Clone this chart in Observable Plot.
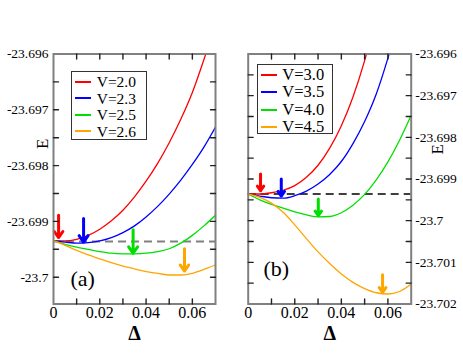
<!DOCTYPE html>
<html><head><meta charset="utf-8">
<script src="https://cdn.jsdelivr.net/npm/d3@7"></script>
<script src="https://cdn.jsdelivr.net/npm/@observablehq/plot@0.6"></script>
<style>
body{margin:0;background:#fff;}
#wrap{position:relative;width:463px;height:358px;font-family:"Liberation Serif","Times New Roman","DejaVu Serif",serif;overflow:hidden;}
#wrap svg{position:absolute;top:0;}
#wrap svg text{font-family:"Liberation Serif","Times New Roman","DejaVu Serif",serif;}
.legend{position:absolute;box-sizing:border-box;border:1.5px solid #333;background:#fff;color:#000;}
.row{display:flex;align-items:center;white-space:nowrap;overflow:visible;}
.sw{display:block;width:16px;height:2px;flex:none;}
.lt{display:block;overflow:visible;}
</style></head><body><div id="wrap"></div>
<script>
// ---- data ----
const delta = [0,0.005,0.01,0.015,0.02,0.025,0.03,0.035,0.04,0.045,0.05,0.055,0.06,0.065,0.07];
const E0 = -23.69936;

const seriesA = ["V=2.0","V=2.3","V=2.5","V=2.6"];
const seriesB = ["V=3.0","V=3.5","V=4.0","V=4.5"];
const colors = ["#ff0000","#0000ff","#00e000","#ffa500"];

const eA_20 = [-23.69935,-23.69935,-23.69932,-23.69925,-23.69914,-23.69899,-23.69880,-23.69856,-23.69828,-23.69796,-23.69759,-23.69717,-23.69669,-23.69610,-23.69545];
const eA_23 = [-23.69935,-23.69937,-23.69939,-23.69938,-23.69935,-23.69929,-23.69920,-23.69908,-23.69892,-23.69873,-23.69851,-23.69826,-23.69798,-23.69767,-23.69731];
const eA_25 = [-23.69935,-23.69941,-23.69946,-23.69950,-23.69954,-23.69957,-23.69958,-23.69958,-23.69957,-23.69954,-23.69949,-23.69939,-23.69925,-23.69908,-23.69889];
const eA_26 = [-23.69935,-23.69943,-23.69952,-23.69960,-23.69967,-23.69974,-23.69980,-23.69985,-23.69990,-23.69993,-23.69996,-23.69996,-23.69993,-23.69986,-23.69978];

const eB_30 = [-23.69936,-23.69936,-23.69933,-23.69927,-23.69916,-23.69896,-23.69867,-23.69826,-23.69772,-23.69703,-23.69616,-23.69510,null,null,null];
const eB_35 = [-23.69936,-23.69941,-23.69945,-23.69946,-23.69940,-23.69929,-23.69912,-23.69889,-23.69858,-23.69815,-23.69762,-23.69696,-23.69610,-23.69510,null];
const eB_40 = [-23.69936,-23.69950,-23.69961,-23.69970,-23.69979,-23.69986,-23.69991,-23.69990,-23.69981,-23.69963,-23.69937,-23.69902,-23.69859,-23.69807,-23.69747];
const eB_45 = [-23.69936,-23.69944,-23.69958,-23.69980,-23.70010,-23.70043,-23.70075,-23.70103,-23.70128,-23.70148,-23.70163,-23.70173,-23.70176,-23.70170,-23.70152];

// arrows: position, top end, tip end
const arrowDeltaA = [0.0022,0.013,0.0344,0.0566];
const arrowTopA   = [-23.69889,-23.69895,-23.69915,-23.69949];
const arrowTipA   = [-23.69929,-23.69937,-23.69957,-23.69989];
const arrowDeltaB = [0.0053,0.0142,0.0301,0.0577];
const arrowTopB   = [-23.69888,-23.69900,-23.69948,-23.70130];
const arrowTipB   = [-23.69928,-23.69941,-23.69988,-23.70172];

const xTicks = [0,0.02,0.04,0.06];
const xMinor = [0.01,0.02,0.03,0.04,0.05,0.06];
const yTicksA = [-23.7,-23.699,-23.698,-23.697,-23.696];
const yMinorA = [-23.7,-23.6995,-23.699,-23.6985,-23.698,-23.6975,-23.697,-23.6965];
const yTicksB = [-23.702,-23.701,-23.7,-23.699,-23.698,-23.697,-23.696];
const yMinorB = [-23.7015,-23.701,-23.7005,-23.7,-23.6995,-23.699,-23.6985,-23.698,-23.6975,-23.697,-23.6965];

// ---- drawing ----
const FONT = "Liberation Serif, Times New Roman, DejaVu Serif, serif";
const tickShape = {draw(ctx, l){ ctx.moveTo(0,0); ctx.lineTo(0,-l); }};
const fmtX = d => d === 0 ? "0" : String(d);
const fmtY = d => String(+d.toFixed(3));

function panel(o){
  const rows = [];
  o.series.forEach((s,i) => o.values[i].forEach((v,j) => { if (v !== null) rows.push({s, d: delta[j], e: v}); }));
  const arrows = o.series.map((s,i) => ({s, d: o.ad[i], top: o.at[i], tip: o.ap[i]}));
  const tk = {stroke:"#222", strokeWidth:1.4, fill:"none", length:5, anchor:"start", shape:tickShape};
  const side = o.side;
  return Plot.plot({
    width: o.width, height: 358,
    marginLeft: o.ml, marginRight: o.mr, marginTop: 53.5, marginBottom: 54.5,
    x: {domain: [0,0.07]},
    y: {domain: o.yDomain},
    color: {domain: o.series, range: colors},
    style: {fontFamily: FONT, background: "white", color: "black"},
    marks: [
      Plot.ruleY([E0], {stroke: o.dash, strokeDasharray: "8,5", strokeWidth: o.dashW}),
      Plot.line(rows, {x: "d", y: "e", z: "s", stroke: "s", strokeWidth: 1.3, curve: "monotone-x", clip: true}),
      Plot.arrow(arrows, {x: "d", y1: "top", y2: "tip", stroke: "s", strokeWidth: 3, headLength: 9, headAngle: 70}),
      Plot.frame({stroke: "#808080", strokeWidth: 2}),
      Plot.vector(xMinor, {...tk, x: d => d, frameAnchor: "bottom", rotate: 0}),
      Plot.vector(xMinor, {...tk, x: d => d, frameAnchor: "top", rotate: 180}),
      Plot.vector(o.yMinor, {...tk, y: d => d, frameAnchor: "left", rotate: 90}),
      Plot.vector(o.yMinor, {...tk, y: d => d, frameAnchor: "right", rotate: -90}),
      Plot.axisX({ticks: xTicks, tickSize: 0, tickPadding: 3, fontSize: 16, tickFormat: fmtX, label: null}),
      Plot.axisY({anchor: side, ticks: o.yTicks, tickSize: 0, tickPadding: o.yPad, fontSize: 13.5, tickFormat: fmtY, label: null}),
      Plot.text(["Δ"], {frameAnchor: "bottom", dy: 36, fontSize: 20, fontWeight: "bold"}),
      Plot.text(["E"], {frameAnchor: side, dx: o.edx, dy: o.edy, rotate: -90, fontSize: 17}),
      Plot.text([o.label], {frameAnchor: "bottom-left", textAnchor: "start", dx: o.ldx, dy: o.ldy, fontSize: 22})
    ]
  });
}

const wrap = document.getElementById("wrap");
const pa = panel({series: seriesA, values: [eA_20,eA_23,eA_25,eA_26], ad: arrowDeltaA, at: arrowTopA, ap: arrowTipA,
  yDomain: [-23.70048,-23.696], yTicks: yTicksA, yMinor: yMinorA, side: "left", yPad: 5,
  width: 231, ml: 53, mr: 16, dash: "#808080", dashW: 2, edx: -10.5, edy: -30, label: "(a)", ldx: 17, ldy: -18.5});
pa.style.left = "0px";
const pb = panel({series: seriesB, values: [eB_30,eB_35,eB_40,eB_45], ad: arrowDeltaB, at: arrowTopB, ap: arrowTipB,
  yDomain: [-23.702,-23.696], yTicks: yTicksB, yMinor: yMinorB, side: "right", yPad: 4,
  width: 232, ml: 16.7, mr: 52.3, dash: "#000", dashW: 1.6, edx: 26, edy: -35, label: "(b)", ldx: 15.3, ldy: -28.5});
pb.style.left = "231px";
wrap.appendChild(pa); wrap.appendChild(pb);

function legend(series, box){
  const div = document.createElement("div");
  div.className = "legend";
  Object.assign(div.style, {left: box.left+"px", top: box.top+"px", width: box.w+"px", height: box.h+"px", paddingTop: box.pt+"px", fontSize: box.fs+"px"});
  series.forEach((s,i) => {
    const r = document.createElement("div");
    r.className = "row"; r.style.height = box.lh+"px";
    const sw = document.createElement("span"); sw.className = "sw";
    sw.style.background = colors[i]; sw.style.marginLeft = box.sl+"px";
    const t = document.createElement("span"); t.className = "lt"; t.textContent = s;
    t.style.marginLeft = box.tl+"px"; t.style.lineHeight = (box.lh - 1)+"px"; t.style.height = (box.lh - 1)+"px";
    r.appendChild(sw); r.appendChild(t); div.appendChild(r);
  });
  wrap.appendChild(div);
}
legend(seriesA, {left: 70.7, top: 70.7, w: 76, h: 69.5, pt: 2, lh: 16.5, sl: 3, tl: 6, fs: 15.5});
legend(seriesB, {left: 257.3, top: 64, w: 75.5, h: 69.5, pt: 1, lh: 17.5, sl: 3, tl: 5, fs: 16.5});
</script></body></html>
